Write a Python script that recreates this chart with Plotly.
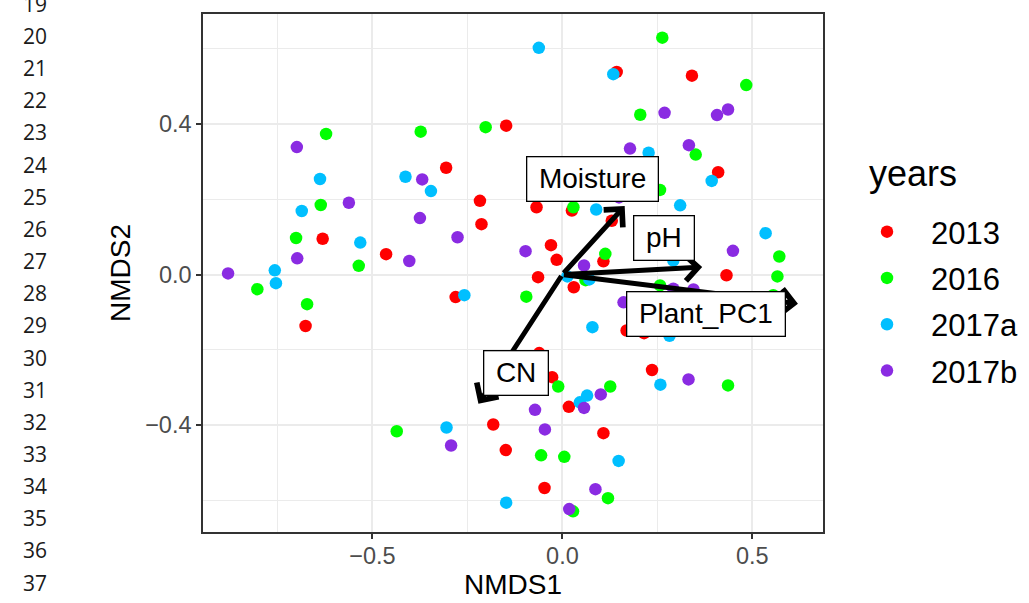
import plotly.graph_objects as go

# ---------------- data ----------------
years = ["2013", "2016", "2017a", "2017b"]
colors = ["#FF0000", "#00FF00", "#00BFFF", "#8A2BE2"]

x_2013 = [0.143, 0.341, -0.148, -0.306, 0.410, -0.217, -0.213, -0.631, -0.068, 0.025,
          0.130, -0.464, -0.030, -0.015, 0.108, -0.064, 0.432, 0.030, -0.676, -0.281,
          0.169, 0.215, -0.061, -0.027, 0.236, 0.017, -0.182, -0.149, 0.108, -0.047]
y_2013 = [0.539, 0.529, 0.396, 0.284, 0.272, 0.196, 0.134, 0.095, 0.179, 0.170,
          0.143, 0.054, 0.078, 0.039, 0.035, -0.007, -0.002, -0.034, -0.137, -0.060,
          -0.149, -0.156, -0.209, -0.273, -0.254, -0.352, -0.399, -0.467, -0.422, -0.568]

x_2016 = [0.263, 0.484, -0.622, -0.373, -0.202, 0.205, 0.351, 0.257, 0.029, -0.636,
          -0.701, -0.536, 0.113, 0.571, 0.566, 0.061, -0.095, 0.257, 0.555, -0.803,
          -0.672, -0.011, 0.126, 0.436, -0.436, -0.056, 0.005, 0.120, 0.028]
y_2016 = [0.630, 0.504, 0.374, 0.380, 0.392, 0.425, 0.319, 0.225, 0.179, 0.185,
          0.097, 0.023, 0.055, 0.048, -0.005, -0.015, -0.059, -0.029, -0.055, -0.039,
          -0.079, -0.298, -0.298, -0.295, -0.417, -0.481, -0.485, -0.595, -0.630]

x_2017a = [-0.062, 0.134, 0.227, 0.393, -0.638, -0.413, -0.346, -0.686, -0.532, 0.089,
           0.310, 0.535, 0.292, -0.757, -0.754, -0.258, 0.013, 0.071, 0.079, 0.282,
           0.258, 0.065, 0.046, -0.305, 0.148, -0.148]
y_2017a = [0.603, 0.533, 0.324, 0.249, 0.254, 0.260, 0.222, 0.169, 0.085, 0.173,
           0.184, 0.110, 0.037, 0.011, -0.023, -0.055, -0.005, -0.013, -0.140, -0.163,
           -0.293, -0.322, -0.340, -0.407, -0.496, -0.607]

x_2017b = [0.269, 0.407, 0.436, -0.699, 0.178, 0.333, -0.369, 0.149, -0.562, -0.375,
           -0.276, -0.097, -0.698, -0.403, 0.057, 0.449, -0.880, 0.292, 0.345, 0.161,
           0.332, 0.101, 0.057, -0.072, -0.046, -0.293, 0.087, 0.018]
y_2017b = [0.430, 0.424, 0.439, 0.339, 0.335, 0.344, 0.253, 0.205, 0.191, 0.150,
           0.099, 0.062, 0.043, 0.036, 0.024, 0.063, 0.003, -0.038, -0.040, -0.074,
           -0.279, -0.319, -0.355, -0.360, -0.412, -0.455, -0.571, -0.624]

vec_names = ["Moisture", "pH", "Plant_PC1", "CN"]
vec_x = [0.164, 0.368, 0.620, -0.221]
vec_y = [0.182, 0.020, -0.078, -0.344]
lab_x = [0.079, 0.267, 0.378, -0.122]
lab_y = [0.255, 0.096, -0.105, -0.262]

x_tickvals = [-0.5, 0.0, 0.5]
x_ticktext = ["\u22120.5", "0.0", "0.5"]
y_tickvals = [-0.4, 0.0, 0.4]
y_ticktext = ["\u22120.4", "0.0", "0.4"]
x_minor = [-0.75, -0.25, 0.25]
y_minor = [-0.6, -0.2, 0.2, 0.6]

legend_title = "years"
line_numbers = ["19", "20", "21", "22", "23", "24", "25", "26", "27", "28",
                "29", "30", "31", "32", "33", "34", "35", "36", "37"]

# ---------------- layout constants ----------------
W, H = 1029, 603
ML, MR, MT, MB = 203, 206, 14, 71
PW, PH = W - ML - MR, H - MT - MB
FONT = "Liberation Sans, Arial, Helvetica, sans-serif"


def px_x(p):
    return (p - ML) / PW


def px_y(p):
    return (MT + PH - p) / PH


xs = [x_2013, x_2016, x_2017a, x_2017b]
ys = [y_2013, y_2016, y_2017a, y_2017b]

fig = go.Figure()
for name, col, xv, yv in zip(years, colors, xs, ys):
    fig.add_trace(go.Scatter(
        x=xv, y=yv, mode="markers", name=name, legendgroup=name,
        marker=dict(color=col, size=12.5, line=dict(width=0)),
    ))

annotations = []
# arrows
for vx, vy in zip(vec_x, vec_y):
    annotations.append(dict(
        x=vx, y=vy, ax=0, ay=0, xref="x", yref="y", axref="x", ayref="y",
        text="", showarrow=True, arrowhead=4, arrowsize=1.0, arrowwidth=5,
        arrowcolor="black", standoff=0, startstandoff=0,
    ))
# labels
for nm, lx, ly in zip(vec_names, lab_x, lab_y):
    annotations.append(dict(
        x=lx, y=ly, xref="x", yref="y", text="\u2009" + nm + "\u2009",
        showarrow=False, font=dict(family=FONT, size=28, color="black"),
        bgcolor="white", bordercolor="black", borderwidth=1.3, borderpad=6,
        xanchor="center", yanchor="middle",
    ))
# legend title
annotations.append(dict(
    x=px_x(867), y=px_y(173), xref="paper", yref="paper", text=legend_title,
    showarrow=False, xanchor="left", yanchor="middle",
    font=dict(family=FONT, size=36, color="black"),
))
# line numbers at left
for i, t in enumerate(line_numbers):
    ypx = 3.85 + i * 32.15
    annotations.append(dict(
        x=px_x(21), y=px_y(ypx), xref="paper", yref="paper",
        text=t, showarrow=False, xanchor="left", yanchor="middle",
        font=dict(family="Open Sans, Noto Sans, sans-serif", size=21, color="#1a1a1a"),
    ))

axis_common = dict(
    showgrid=True, gridcolor="#EBEBEB", gridwidth=2.4,
    zeroline=False, showline=True, linecolor="#333333", linewidth=1.5, mirror=True,
    ticks="outside", ticklen=5, tickwidth=1.5, tickcolor="#333333",
    tickfont=dict(family=FONT, size=23.5, color="#4D4D4D"),
)

fig.update_layout(
    width=W, height=H,
    margin=dict(l=ML, r=MR, t=MT, b=MB, autoexpand=False),
    paper_bgcolor="white", plot_bgcolor="white",
    xaxis=dict(
        range=[-0.946, 0.686], tickvals=x_tickvals, ticktext=x_ticktext,
        minor=dict(tickvals=x_minor, showgrid=True, gridcolor="#EBEBEB", gridwidth=1.2, ticks=""),
        title=dict(text="NMDS1", font=dict(family=FONT, size=28, color="black"), standoff=4),
        ticklabelstandoff=-3,
        **axis_common,
    ),
    yaxis=dict(
        range=[-0.685, 0.693], tickvals=y_tickvals, ticktext=y_ticktext,
        minor=dict(tickvals=y_minor, showgrid=True, gridcolor="#EBEBEB", gridwidth=1.2, ticks=""),
        title=dict(text="NMDS2", font=dict(family=FONT, size=28, color="black"), standoff=6),
        ticklabelstandoff=0,
        **axis_common,
    ),
    legend=dict(
        font=dict(family=FONT, size=31, color="black"),
        x=px_x(843), xanchor="left", y=px_y(205), yanchor="top",
        tracegroupgap=3, itemwidth=78, bgcolor="rgba(0,0,0,0)",
    ),
    annotations=annotations,
)

fig.write_html("out.html", config={"displayModeBar": False},
               post_script="document.body.style.margin='0';")
